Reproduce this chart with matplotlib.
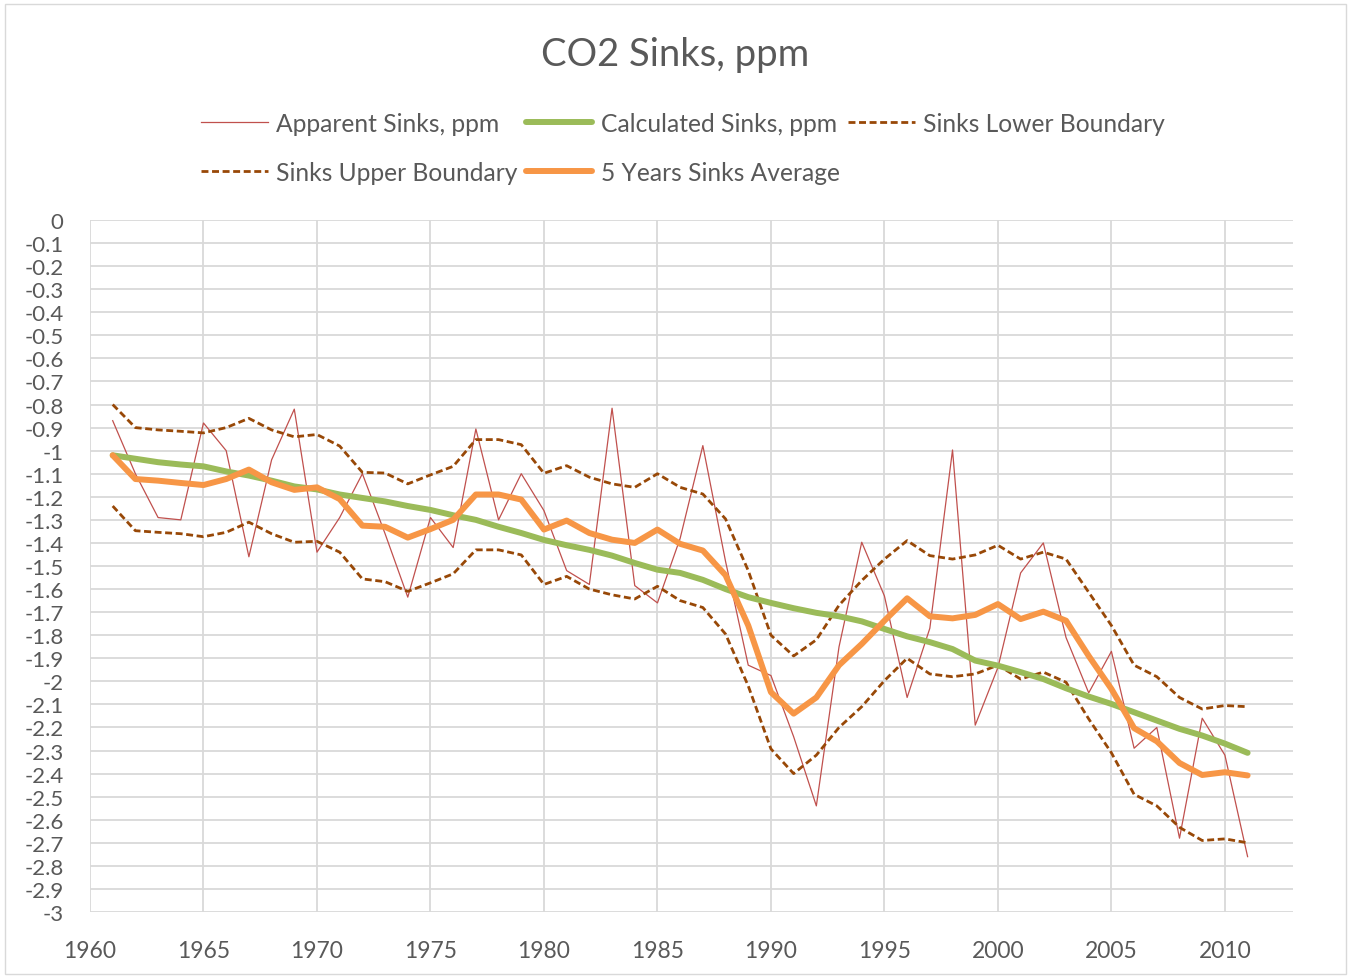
import matplotlib
matplotlib.use("Agg")
import matplotlib.pyplot as plt
from matplotlib.patches import Rectangle
import numpy as np

years = list(range(1961, 2012))

apparent = [-0.87, -1.10, -1.29, -1.30, -0.88, -1.00, -1.46, -1.04, -0.82, -1.44,
            -1.29, -1.10, -1.36, -1.635, -1.29, -1.42, -0.906, -1.30, -1.10, -1.26,
            -1.52, -1.58, -0.816, -1.585, -1.66, -1.38, -0.978, -1.48, -1.93, -1.975,
            -2.24, -2.54, -1.85, -1.397, -1.63, -2.07, -1.77, -0.997, -2.19, -1.94,
            -1.53, -1.40, -1.81, -2.05, -1.87, -2.29, -2.20, -2.68, -2.16, -2.32, -2.76]

calculated = [-1.02, -1.035, -1.05, -1.06, -1.068, -1.09, -1.108, -1.13, -1.155, -1.168,
              -1.19, -1.205, -1.22, -1.24, -1.257, -1.28, -1.30, -1.33, -1.357, -1.387,
              -1.41, -1.43, -1.455, -1.487, -1.516, -1.53, -1.56, -1.60, -1.635, -1.66,
              -1.683, -1.703, -1.718, -1.74, -1.773, -1.805, -1.83, -1.86, -1.91, -1.932,
              -1.96, -1.99, -2.03, -2.066, -2.098, -2.134, -2.17, -2.206, -2.235, -2.27, -2.31]

lower_boundary = [-0.80, -0.90, -0.91, -0.916, -0.923, -0.90, -0.86, -0.91, -0.94, -0.93,
                  -0.98, -1.094, -1.097, -1.144, -1.105, -1.068, -0.952, -0.952, -0.974, -1.098,
                  -1.065, -1.115, -1.144, -1.159, -1.10, -1.159, -1.188, -1.296, -1.52, -1.80,
                  -1.89, -1.82, -1.67, -1.563, -1.47, -1.39, -1.455, -1.47, -1.452, -1.41,
                  -1.47, -1.44, -1.47, -1.614, -1.758, -1.93, -1.98, -2.07, -2.12, -2.105, -2.11]

upper_boundary = [-1.24, -1.347, -1.354, -1.36, -1.373, -1.354, -1.31, -1.36, -1.397, -1.393,
                  -1.44, -1.556, -1.568, -1.61, -1.573, -1.534, -1.43, -1.43, -1.452, -1.58,
                  -1.545, -1.60, -1.625, -1.643, -1.588, -1.65, -1.68, -1.795, -2.02, -2.293,
                  -2.40, -2.32, -2.20, -2.11, -1.997, -1.90, -1.968, -1.98, -1.968, -1.93,
                  -1.99, -1.96, -2.004, -2.163, -2.31, -2.49, -2.54, -2.633, -2.69, -2.683, -2.70]

avg5 = [-1.02, -1.123, -1.13, -1.14, -1.149, -1.123, -1.082, -1.137, -1.17, -1.159,
        -1.21, -1.325, -1.33, -1.377, -1.34, -1.30, -1.19, -1.19, -1.212, -1.342,
        -1.303, -1.357, -1.386, -1.40, -1.342, -1.404, -1.433, -1.54, -1.758, -2.047,
        -2.14, -2.07, -1.93, -1.838, -1.737, -1.64, -1.718, -1.727, -1.712, -1.665,
        -1.73, -1.698, -1.737, -1.89, -2.033, -2.203, -2.26, -2.354, -2.406, -2.394, -2.408]

x_ticks = [1960, 1965, 1970, 1975, 1980, 1985, 1990, 1995, 2000, 2005, 2010]
y_ticks = [round(-0.1 * i, 1) for i in range(31)]

FONT = ["Lato", "DejaVu Sans"]
plt.rcParams['font.family'] = FONT
TXT = "#595959"

fig = plt.figure(figsize=(13.51, 9.79), dpi=100)
fig.patches.append(Rectangle((5/1351, 4/979), 1341/1351, 970/979, transform=fig.transFigure,
                             fill=False, edgecolor="#d9d9d9", linewidth=1.0))

ax = fig.add_axes([90/1351, 1 - 913/979, (1293 - 90)/1351, (913 - 221)/979])

DASH = (0, (2.5, 1.3))
l_app, = ax.plot(years, apparent, color="#C0504D", lw=0.9, label="Apparent Sinks, ppm", zorder=3)
l_low, = ax.plot(years, lower_boundary, color="#984807", lw=2.0, ls=DASH,
                 label="Sinks Lower Boundary", zorder=3)
l_up, = ax.plot(years, upper_boundary, color="#984807", lw=2.0, ls=DASH,
                label="Sinks Upper Boundary", zorder=3)
l_calc, = ax.plot(years, calculated, color="#9BBB59", lw=4.3, solid_capstyle="round",
                  label="Calculated Sinks, ppm", zorder=4)
l_avg, = ax.plot(years, avg5, color="#F79646", lw=4.3, solid_capstyle="round",
                 solid_joinstyle="round", label="5 Years Sinks Average", zorder=5)

ax.set_xlim(1960, 2013)
ax.set_ylim(-3, 0)
ax.set_xticks(x_ticks)
ax.set_xticklabels([str(t) for t in x_ticks])
ax.set_yticks(y_ticks)
ax.set_yticklabels([("%g" % t).replace("\u2212", "-") if t != 0 else "0" for t in y_ticks])

ax.grid(True, color="#d9d9d9", lw=1.3)
ax.set_axisbelow(True)
for s in ax.spines.values():
    s.set_visible(False)
ax.tick_params(axis="both", length=0, colors=TXT)
ax.tick_params(axis="y", labelsize=16, pad=19)
ax.tick_params(axis="x", labelsize=16.5, pad=20)

fig.text(0.5, 1 - 55/979, "CO2 Sinks, ppm", ha="center", va="center", fontsize=27.5, color=TXT)

handles = [l_app, l_up, l_calc, l_avg, l_low]
leg = fig.legend(handles, [h.get_label() for h in handles], ncol=3, loc="center",
                 bbox_to_anchor=(683/1351, 1 - 149/979), frameon=False, fontsize=17.7,
                 handlelength=2.7, handletextpad=0.33, columnspacing=0.35, labelspacing=1.05,
                 labelcolor=TXT)

fig.savefig("out.png", dpi=100)
